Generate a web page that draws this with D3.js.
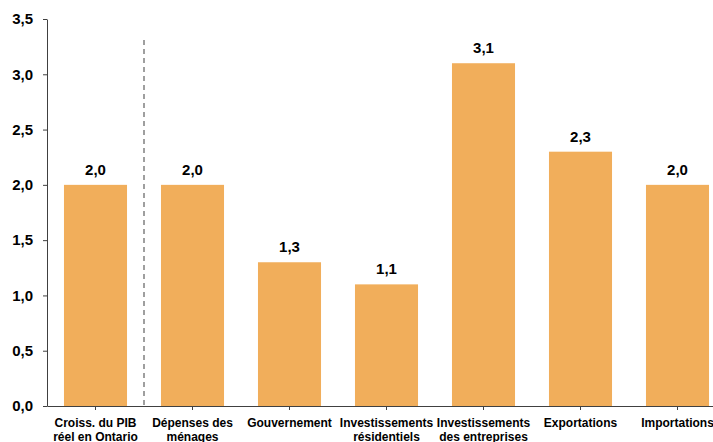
<!DOCTYPE html>
<html><head><meta charset="utf-8">
<script src="https://cdn.jsdelivr.net/npm/d3@7"></script>
<style>
html,body{margin:0;padding:0;background:#fff;}
text{font-family:"Liberation Sans",Arial,sans-serif;font-weight:bold;fill:#000;}
</style></head>
<body>
<svg id="c" width="713" height="442"></svg>
<script>
const categories = [
  ["Croiss. du PIB","réel en Ontario"],
  ["Dépenses des","ménages"],
  ["Gouvernement"],
  ["Investissements","résidentiels"],
  ["Investissements","des entreprises"],
  ["Exportations"],
  ["Importations"]
];
const values = [2.0, 2.0, 1.3, 1.1, 3.1, 2.3, 2.0];
const yTicks = [0, 0.5, 1.0, 1.5, 2.0, 2.5, 3.0, 3.5];

(function(){
const svg = d3.select("#c");
const mLeft = 47, mBottom = 406, mTop = 19;
const fmt = v => d3.format(".1f")(v).replace(".", ",");
const ids = categories.map((c,i)=>i);
const x = d3.scaleBand().domain(ids).range([mLeft, 726]).paddingInner(0.35).paddingOuter(0.175);
const y = d3.scaleLinear().domain([0, 3.5]).range([mBottom, mTop]);

svg.selectAll("rect.bar").data(values).enter().append("rect")
  .attr("x",(d,i)=>x(i)).attr("width",x.bandwidth())
  .attr("y",d=>y(d)).attr("height",d=>mBottom-y(d))
  .attr("fill","#F1AE5B");

svg.selectAll("text.val").data(values).enter().append("text")
  .attr("x",(d,i)=>x(i)+x.bandwidth()/2).attr("y",d=>y(d)-10)
  .attr("text-anchor","middle").style("font-size","15px").text(fmt);

const sepX = (x(0)+x.bandwidth() + x(1))/2;
svg.append("line").attr("x1",sepX).attr("x2",sepX).attr("y1",40).attr("y2",mBottom)
  .attr("stroke","#808080").attr("stroke-width",1.5).attr("stroke-dasharray","5,4");

const ya = svg.append("g").attr("transform",`translate(${mLeft},0)`)
  .call(d3.axisLeft(y).tickValues(yTicks).tickFormat(fmt).tickSize(4).tickSizeOuter(0).tickPadding(10));
ya.selectAll("text").style("font-size","15px").style("font-family","Liberation Sans, Arial, sans-serif").style("font-weight","bold");
ya.selectAll("line,path").attr("stroke","#404040");

const xa = svg.append("g").attr("transform",`translate(0,${mBottom})`)
  .call(d3.axisBottom(x).tickSize(4).tickSizeOuter(0).tickFormat(""));
xa.selectAll("line,path").attr("stroke","#404040");

const cl = svg.selectAll("text.cat").data(categories).enter().append("text")
  .attr("text-anchor","middle").style("font-size","12px")
  .attr("transform",(d,i)=>`translate(${x(i)+x.bandwidth()/2},427)`);
cl.selectAll("tspan").data(d=>d).enter().append("tspan")
  .attr("x",0).attr("dy",(d,j)=>j?14:0).text(d=>d);
})();
</script>
</body></html>
